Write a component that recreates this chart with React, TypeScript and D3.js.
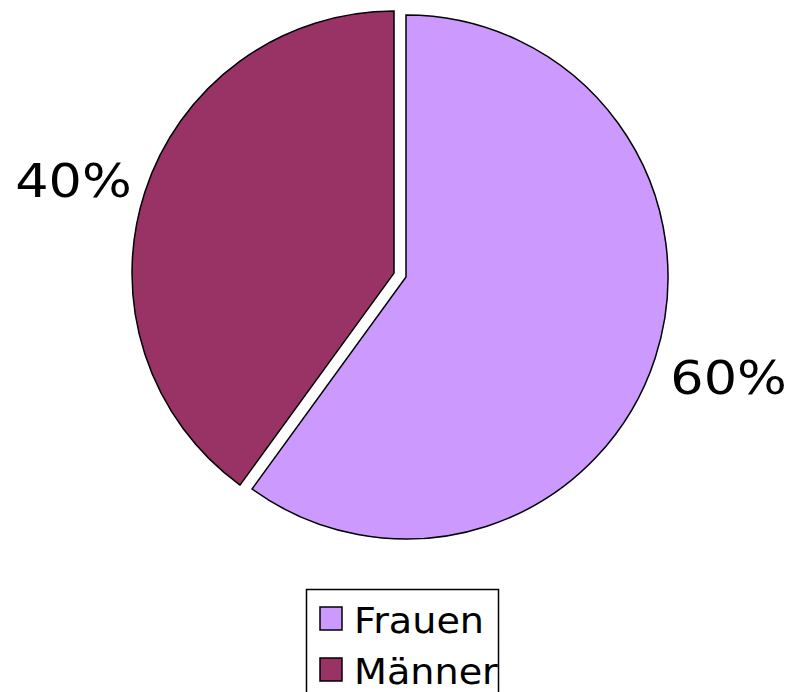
import { useEffect, useRef } from 'react'
import * as d3 from 'd3'

const WIDTH = 791
const HEIGHT = 692
const CENTER_X = 406
const CENTER_Y = 277
const RADIUS = 262
const EXPLODE = 12.6
const LABEL_RADIUS = 336
const FONT = '"DejaVu Sans", Verdana, sans-serif'

// Chart data
const categories = ['Frauen', 'Männer']
const values = [60, 40]
const labels = ['60%', '40%']
const colors = ['#CC99FF', '#993366']
const exploded = [false, true]

// small nudges so the labels sit where the original places them
const LABEL_NUDGE: Record<string, [number, number]> = { Frauen: [3, -3], 'Männer': [-1, 11] }

export default function App() {
  const svgRef = useRef<SVGSVGElement | null>(null)

  useEffect(() => {
    if (!svgRef.current) return
    const svg = d3.select(svgRef.current)
    svg.selectAll('*').remove()

    const data = categories.map((c, i) => ({ name: c, value: values[i], label: labels[i], color: colors[i], exploded: exploded[i] }))

    const pie = d3.pie<any>().sort(null).value(d => d.value)
    const arcs = pie(data)
    const arc = d3.arc<any>().innerRadius(0).outerRadius(RADIUS)
    const labelArc = d3.arc<any>().innerRadius(LABEL_RADIUS).outerRadius(LABEL_RADIUS)

    const g = svg.append('g').attr('transform', `translate(${CENTER_X},${CENTER_Y})`)

    const slices = g.selectAll('.slice')
      .data(arcs)
      .enter()
      .append('g')
      .attr('class', 'slice')
      .attr('transform', d => {
        if (!d.data.exploded) return null
        const mid = (d.startAngle + d.endAngle) / 2
        return `translate(${Math.sin(mid) * EXPLODE},${-Math.cos(mid) * EXPLODE})`
      })

    slices.append('path')
      .attr('d', arc)
      .attr('fill', d => d.data.color)
      .attr('stroke', '#000')
      .attr('stroke-width', 1.5)

    slices.append('text')
      .attr('transform', d => {
        const [x, y] = labelArc.centroid(d)
        const [nx, ny] = LABEL_NUDGE[d.data.name] || [0, 0]
        return `translate(${x + nx},${y + ny}) scale(1.14,1)`
      })
      .attr('text-anchor', 'middle')
      .attr('dy', '0.36em')
      .attr('font-family', FONT)
      .attr('font-size', 46)
      .attr('fill', '#000')
      .text(d => d.data.label)

    // Legend
    const legend = svg.append('g').attr('transform', 'translate(306,589)')
    legend.append('rect')
      .attr('x', 0.5)
      .attr('y', 0.5)
      .attr('width', 192)
      .attr('height', 110)
      .attr('fill', '#fff')
      .attr('stroke', '#000')
      .attr('stroke-width', 1.5)

    const items = legend.selectAll('.item')
      .data(data)
      .enter()
      .append('g')
      .attr('class', 'item')
      .attr('transform', (_, i) => `translate(14,${18 + i * 51})`)

    items.append('rect')
      .attr('width', 22)
      .attr('height', 23)
      .attr('fill', d => d.color)
      .attr('stroke', '#000')
      .attr('stroke-width', 1.5)

    items.append('text')
      .attr('transform', 'translate(34,26) scale(1.06,1)')
      .attr('font-family', FONT)
      .attr('font-size', 36)
      .attr('fill', '#000')
      .text(d => d.name)
  }, [])

  return (
    <svg
      ref={svgRef}
      width={WIDTH}
      height={HEIGHT}
      style={{ position: 'absolute', left: 0, top: 0, background: '#fff' }}
    />
  )
}
